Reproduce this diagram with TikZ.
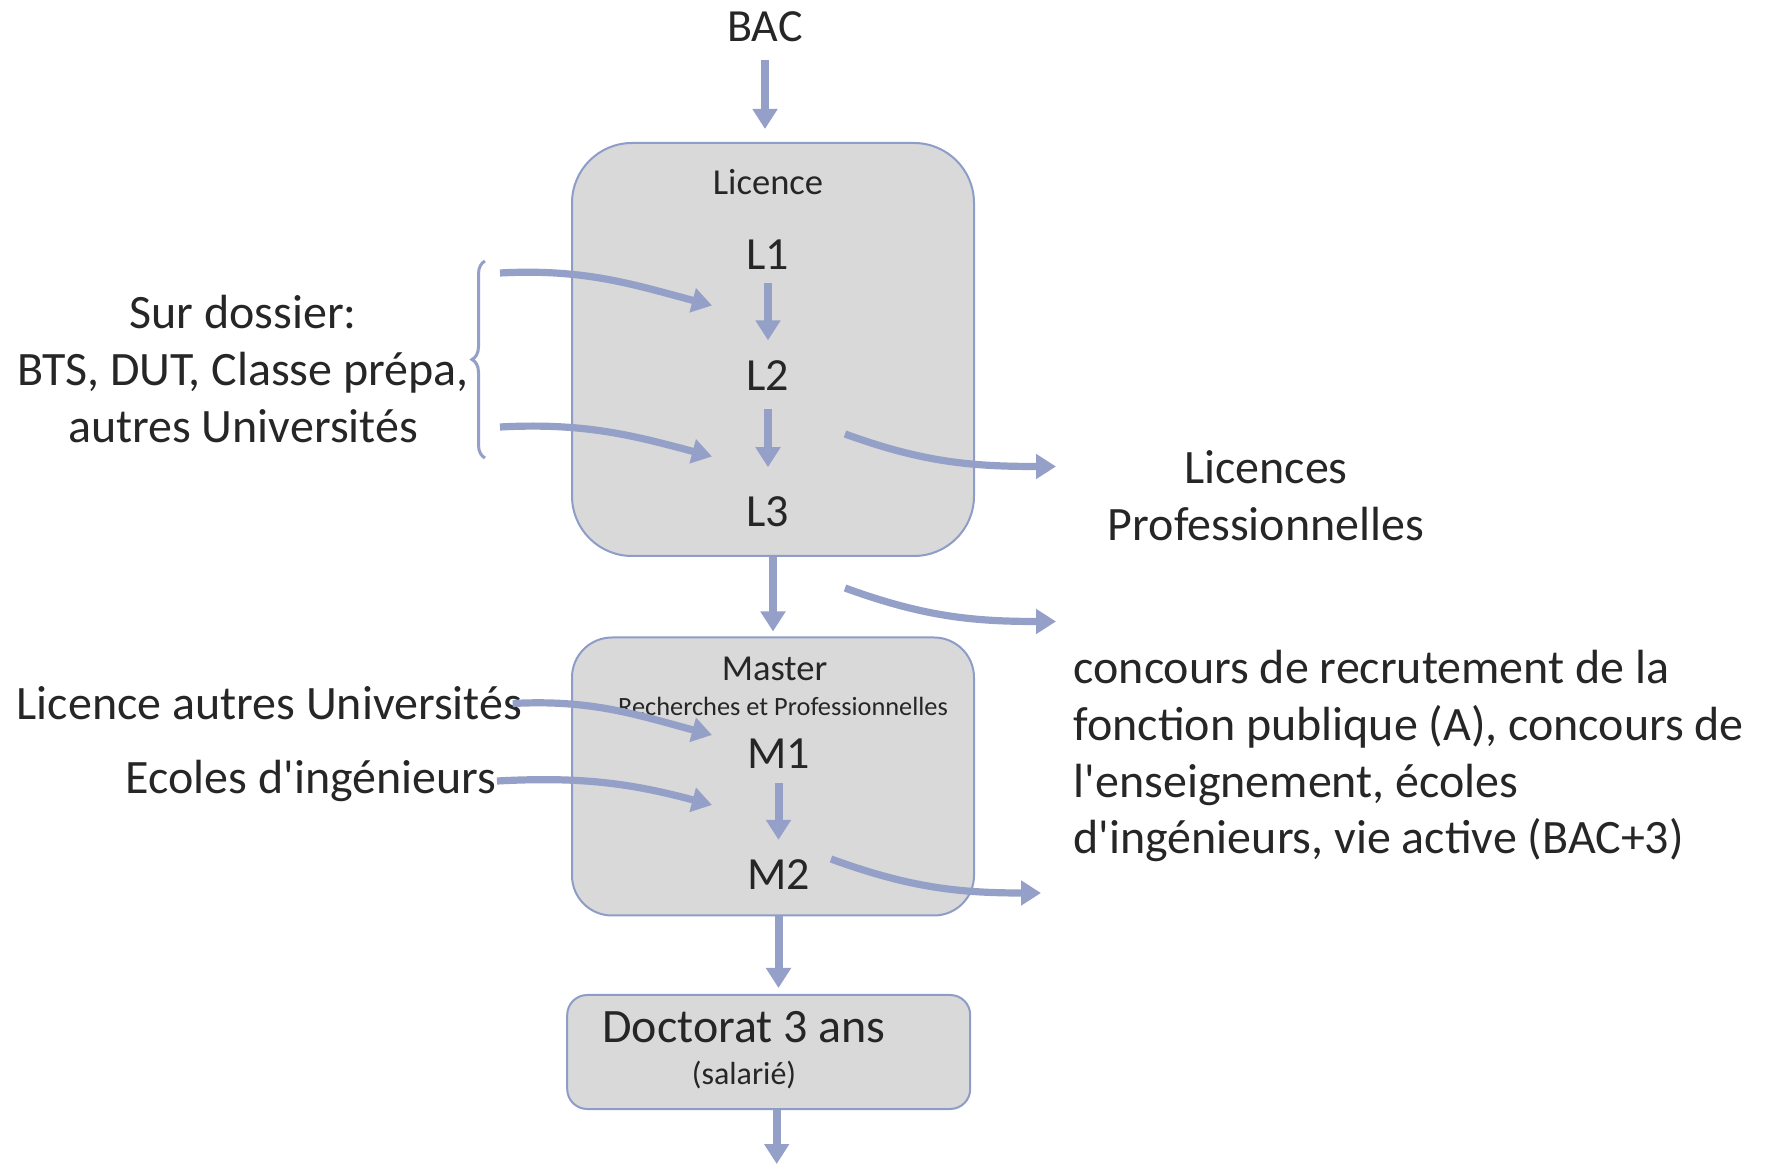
\documentclass[tikz,border=0pt]{standalone}
\usepackage{fontspec}
\setmainfont{Carlito}
\usepackage{xcolor}
\usepackage{tikz}
\usetikzlibrary{arrows.meta,positioning,decorations.pathreplacing}
\definecolor{edublue}{RGB}{148,160,199}
\definecolor{eduedge}{RGB}{142,156,200}
\definecolor{edufill}{RGB}{217,217,217}
\definecolor{eduink}{RGB}{38,38,38}
\tikzset{
  edubox/.style={
    draw=eduedge,
    fill=edufill,
    line width=0.2mm,
    inner sep=0pt
  },
  edutxt/.style={text=eduink,inner sep=0pt,align=center},
  edubig/.style={edutxt,font=\fontsize{13.65}{16.2}\selectfont},
  edustep/.style={edutxt,font=\fontsize{13.1}{15.7}\selectfont},
  eduhead/.style={edutxt,font=\fontsize{10.4}{12.5}\selectfont},
  edusmall/.style={edutxt,font=\fontsize{7.5}{9}\selectfont},
  edusub/.style={edutxt,font=\fontsize{9.1}{11}\selectfont},
  eduflow/.style={-{Triangle[length=2mm,width=2.4mm]},line width=0.8mm,edublue},
  eduside/.style={-{Triangle[length=2mm,width=2.4mm]},line width=0.72mm,edublue},
  edubrace/.style={decorate,decoration={brace,amplitude=1.3mm},line width=0.3mm,edublue}
}

\begin{document}
\begin{tikzpicture}[x=1cm,y=1cm]
  \useasboundingbox (0,0) rectangle (17.69,-11.67);

  % boxes
  \node[edubox,rounded corners=6mm,minimum width=4.02cm,minimum height=4.13cm] (licbox) at (7.73,-3.495) {};
  \node[edubox,rounded corners=4mm,minimum width=4.02cm,minimum height=2.78cm] (masbox) at (7.73,-7.765) {};
  \node[edubox,rounded corners=2mm,minimum width=4.03cm,minimum height=1.14cm] (docbox) at (7.687,-10.52) {};

  % centre column
  \node[edustep] (bac) at (7.65,-0.27) {BAC};
  \node[eduhead] (lictitle) at (7.68,-1.82) {Licence};
  \node[edustep] (l1) at (7.68,-2.55) {L1};
  \node[edustep] (l2) at (7.68,-3.76) {L2};
  \node[edustep] (l3) at (7.68,-5.12) {L3};

  \node[eduhead] (mastitle) at (7.745,-6.69) {Master};
  \node[edusmall] (masrech) at (7.83,-7.06) {Recherches et Professionnelles};
  \node[edustep] (m1) at (7.785,-7.54) {M1};
  \node[edustep] (m2) at (7.785,-8.75) {M2};

  \node[edubig] (doctitle) at (7.44,-10.27) {Doctorat 3 ans};
  \node[edusub] (docsal) at (7.44,-10.75) {(salarié)};
  \coordinate (docend) at (7.767,-11.64);

  % left side
  \node[edubig] (surdos) at (2.43,-3.69) {Sur dossier:\\BTS, DUT, Classe prépa,\\autres Universités};
  \node[edubig,anchor=west] (licaut) at (0.16,-7.035) {Licence autres Universités};
  \node[edubig,anchor=east] (ecoles) at (4.97,-7.81) {Ecoles d\textquotesingle ingénieurs};
  \coordinate (bracebot) at (4.85,-4.58);
  \coordinate (bracetop) at (4.85,-2.61);
  \coordinate (dosA) at (5.00,-2.73);
  \coordinate (dosB) at (5.00,-4.27);
  \coordinate (l2in) at (7.12,-3.055);
  \coordinate (l3in) at (7.12,-4.565);
  \coordinate (m1in) at (7.12,-7.35);
  \coordinate (m2in) at (7.12,-8.05);

  % right side
  \node[edubig] (lpro) at (12.66,-4.96) {Licences\\Professionnelles};
  \node[edubig,anchor=west,align=left] (concours) at (10.73,-7.56)
    {concours de recrutement de la\\fonction publique (A), concours de\\l\textquotesingle enseignement, écoles\\d\textquotesingle ingénieurs, vie active (BAC+3)};
  \coordinate (l2out) at (8.45,-4.34);
  \coordinate (l3out) at (8.45,-5.88);
  \coordinate (m2out) at (8.31,-8.59);
  \coordinate (lproin) at (10.56,-4.665);
  \coordinate (concin) at (10.56,-6.215);
  \coordinate (m2end) at (10.41,-8.93);

  % vertical flow
  \draw[eduflow,shorten <=1.7mm,shorten >=1.3mm] (bac) -- (bac |- licbox.north);
  \draw[eduflow,shorten <=1.2mm,shorten >=2mm] (l1) -- (l2);
  \draw[eduflow,shorten <=1.7mm,shorten >=2.9mm] (l2) -- (l3);
  \draw[eduflow,shorten >=0.5mm] (licbox.south) -- (masbox.north);
  \draw[eduflow,shorten <=1.3mm,shorten >=1.95mm] (m1) -- (m2);
  \draw[eduflow,shorten >=0.6mm] (m2 |- masbox.south) -- (m2 |- docbox.north);
  \draw[eduflow] (docend |- docbox.south) -- (docend);

  % entries and exits
  \draw[edubrace] (bracebot) -- (bracetop);
  \draw[eduside] (dosA) to[out=3,in=165] (l2in);
  \draw[eduside] (dosB) to[out=3,in=165] (l3in);
  \draw[eduside] ([xshift=-1mm]licaut.east) to[out=3,in=165] (m1in);
  \draw[eduside] (ecoles.east) to[out=3,in=165] (m2in);
  \draw[eduside] (l2out) to[out=-20,in=180] (lproin);
  \draw[eduside] (l3out) to[out=-20,in=180] (concin);
  \draw[eduside] (m2out) to[out=-20,in=180] (m2end);
\end{tikzpicture}
\end{document}
